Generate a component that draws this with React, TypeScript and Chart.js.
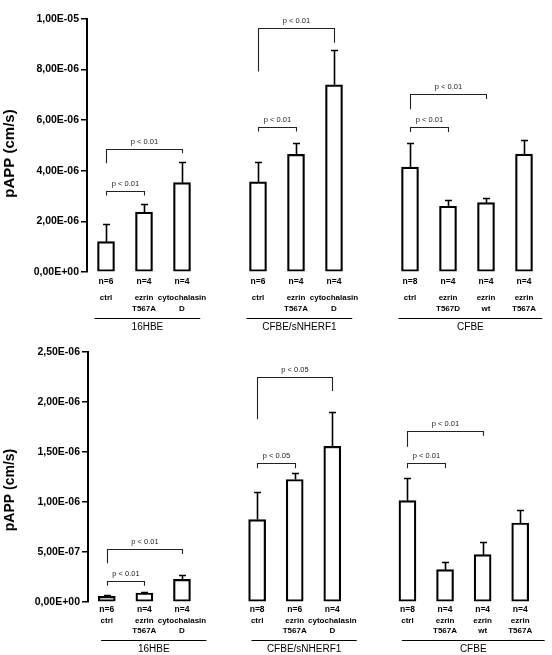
import React, { useEffect, useRef } from "react";
import { Chart, registerables } from "chart.js";
Chart.register(...registerables);

// ---------- data ----------
const positions = [0, 1, 2, 4, 5, 6, 8, 9, 10, 11];
const groupNames = ["16HBE", "CFBE/sNHERF1", "CFBE"];
const groupOf = [0, 0, 0, 1, 1, 1, 2, 2, 2, 2];

const categoriesTop = [["ctrl"], ["ezrin", "T567A"], ["cytochalasin", "D"], ["ctrl"], ["ezrin", "T567A"], ["cytochalasin", "D"], ["ctrl"], ["ezrin", "T567D"], ["ezrin", "wt"], ["ezrin", "T567A"]];
const nTop = ["n=6", "n=4", "n=4", "n=6", "n=4", "n=4", "n=8", "n=4", "n=4", "n=4"];
const meanTop = [1.2e-6, 2.37e-6, 3.53e-6, 3.56e-6, 4.65e-6, 7.4e-6, 4.15e-6, 2.6e-6, 2.74e-6, 4.66e-6];
const errTop = [0.71e-6, 0.33e-6, 0.81e-6, 0.8e-6, 0.46e-6, 1.38e-6, 0.96e-6, 0.25e-6, 0.18e-6, 0.57e-6];
const yTickValuesTop = [0, 2e-6, 4e-6, 6e-6, 8e-6, 1e-5];
const yTickLabelsTop = ["0,00E+00", "2,00E-06", "4,00E-06", "6,00E-06", "8,00E-06", "1,00E-05"];
const bracketPairsTop = [[0, 1], [0, 2], [3, 4], [3, 5], [6, 7], [6, 8]];
const bracketLevelTop = [3.2e-6, 4.85e-6, 5.74e-6, 9.63e-6, 5.74e-6, 7.04e-6];
const bracketLeftEndTop = [3.02e-6, 4.3e-6, 5.55e-6, 7.92e-6, 5.53e-6, 6.43e-6];
const bracketRightEndTop = [3.02e-6, 4.69e-6, 5.55e-6, 9.06e-6, 5.53e-6, 6.84e-6];
const bracketLabelTop = ["p < 0.01", "p < 0.01", "p < 0.01", "p < 0.01", "p < 0.01", "p < 0.01"];

const categoriesBot = [["ctrl"], ["ezrin", "T567A"], ["cytochalasin", "D"], ["ctrl"], ["ezrin", "T567A"], ["cytochalasin", "D"], ["ctrl"], ["ezrin", "T567A"], ["ezrin", "wt"], ["ezrin", "T567A"]];
const nBot = ["n=6", "n=4", "n=4", "n=8", "n=6", "n=4", "n=8", "n=4", "n=4", "n=4"];
const meanBot = [0.057e-6, 0.09e-6, 0.226e-6, 0.824e-6, 1.225e-6, 1.557e-6, 1.013e-6, 0.323e-6, 0.473e-6, 0.79e-6];
const errBot = [0.012e-6, 0.012e-6, 0.04e-6, 0.276e-6, 0.063e-6, 0.348e-6, 0.227e-6, 0.074e-6, 0.13e-6, 0.13e-6];
const yTickValuesBot = [0, 5e-7, 1e-6, 1.5e-6, 2e-6, 2.5e-6];
const yTickLabelsBot = ["0,00E+00", "5,00E-07", "1,00E-06", "1,50E-06", "2,00E-06", "2,50E-06"];
const bracketPairsBot = [[0, 1], [0, 2], [3, 4], [3, 5], [6, 7], [6, 8]];
const bracketLevelBot = [0.213e-6, 0.53e-6, 1.387e-6, 2.247e-6, 1.387e-6, 1.713e-6];
const bracketLeftEndBot = [0.163e-6, 0.387e-6, 1.337e-6, 1.827e-6, 1.337e-6, 1.553e-6];
const bracketRightEndBot = [0.163e-6, 0.48e-6, 1.337e-6, 2.11e-6, 1.337e-6, 1.663e-6];
const bracketLabelBot = ["p < 0.01", "p < 0.01", "p < 0.05", "p < 0.05", "p < 0.01", "p < 0.01"];

const yTitle = "pAPP (cm/s)";

// ---------- panels ----------
type PanelCfg = {
  height: number; padTop: number; padBottom: number; padRight: number; axisWidth: number;
  means: number[]; errs: number[]; cats: string[][]; ns: string[];
  tickValues: number[]; tickLabels: string[]; max: number;
  bPairs: number[][]; bLevel: number[]; bLeft: number[]; bRight: number[]; bLabel: string[];
  nOff: number; c1Off: number; c2Off: number; ulOff: number; gOff: number;
  ulL: number; ulR: number; titleY: number; titleSize: number;
};

const FONT = "'Liberation Sans', Arial, sans-serif";

const topCfg: PanelCfg = {
  height: 334, padTop: 19, padBottom: 62, padRight: 9, axisWidth: 87,
  means: meanTop, errs: errTop, cats: categoriesTop, ns: nTop,
  tickValues: yTickValuesTop, tickLabels: yTickLabelsTop, max: 1e-5,
  bPairs: bracketPairsTop, bLevel: bracketLevelTop, bLeft: bracketLeftEndTop, bRight: bracketRightEndTop, bLabel: bracketLabelTop,
  nOff: 9.5, c1Off: 25.5, c2Off: 37, ulOff: 45.5, gOff: 55.5,
  ulL: 0.3, ulR: 0.48, titleY: 153.5, titleSize: 15,
};

const botCfg: PanelCfg = {
  height: 321, padTop: 18, padBottom: 53, padRight: 13, axisWidth: 88,
  means: meanBot, errs: errBot, cats: categoriesBot, ns: nBot,
  tickValues: yTickValuesBot, tickLabels: yTickLabelsBot, max: 2.5e-6,
  bPairs: bracketPairsBot, bLevel: bracketLevelBot, bLeft: bracketLeftEndBot, bRight: bracketRightEndBot, bLabel: bracketLabelBot,
  nOff: 8, c1Off: 18.5, c2Off: 29, ulOff: 37.5, gOff: 47,
  ulL: 0.15, ulR: 0.65, titleY: 156, titleSize: 14,
};

function makePlugin(p: PanelCfg) {
  return {
    id: "annot",
    afterDatasetsDraw(chart: any) {
      const ctx = chart.ctx as CanvasRenderingContext2D;
      const xs = chart.scales.x;
      const ys = chart.scales.y;
      const bottom = chart.chartArea.bottom;
      ctx.save();
      // error bars
      ctx.strokeStyle = "#000";
      ctx.lineWidth = 1.6;
      p.means.forEach((m, i) => {
        const px = Math.round(xs.getPixelForValue(positions[i])) + 0.5;
        const y0 = ys.getPixelForValue(m);
        const y1 = Math.round(ys.getPixelForValue(m + p.errs[i])) + 0.5;
        ctx.beginPath();
        ctx.moveTo(px, y0);
        ctx.lineTo(px, y1);
        ctx.moveTo(px - 3.5, y1);
        ctx.lineTo(px + 3.5, y1);
        ctx.stroke();
      });
      // brackets
      ctx.strokeStyle = "#222";
      ctx.lineWidth = 1.1;
      ctx.fillStyle = "#222";
      ctx.font = `7.5px ${FONT}`;
      ctx.textAlign = "center";
      ctx.textBaseline = "middle";
      p.bPairs.forEach((pair, k) => {
        const xl = Math.round(xs.getPixelForValue(positions[pair[0]])) + 0.5;
        const xr = Math.round(xs.getPixelForValue(positions[pair[1]])) + 0.5;
        const yl = Math.round(ys.getPixelForValue(p.bLevel[k])) + 0.5;
        ctx.beginPath();
        ctx.moveTo(xl, ys.getPixelForValue(p.bLeft[k]));
        ctx.lineTo(xl, yl);
        ctx.lineTo(xr, yl);
        ctx.lineTo(xr, ys.getPixelForValue(p.bRight[k]));
        ctx.stroke();
        ctx.fillText(p.bLabel[k], (xl + xr) / 2, yl - 8);
      });
      // n labels & categories
      ctx.fillStyle = "#000";
      p.ns.forEach((n, i) => {
        const px = xs.getPixelForValue(positions[i]);
        ctx.font = `bold 8.5px ${FONT}`;
        ctx.fillText(n, px, bottom + p.nOff);
        ctx.font = `bold 8px ${FONT}`;
        const c = p.cats[i];
        ctx.fillText(c[0], px, bottom + p.c1Off);
        if (c[1]) ctx.fillText(c[1], px, bottom + p.c2Off);
      });
      // group underlines and labels
      ctx.strokeStyle = "#000";
      ctx.lineWidth = 1.2;
      groupNames.forEach((g, gi) => {
        const idx = positions.filter((_, i) => groupOf[i] === gi);
        const x0 = xs.getPixelForValue(idx[0] - p.ulL);
        const x1 = xs.getPixelForValue(idx[idx.length - 1] + p.ulR);
        const yy = Math.round(bottom + p.ulOff) + 0.5;
        ctx.beginPath();
        ctx.moveTo(x0, yy);
        ctx.lineTo(x1, yy);
        ctx.stroke();
        ctx.font = `10px ${FONT}`;
        ctx.fillText(g, (x0 + x1) / 2, bottom + p.gOff);
      });
      // y title
      ctx.translate(10, p.titleY);
      ctx.rotate(-Math.PI / 2);
      ctx.font = `bold ${p.titleSize}px ${FONT}`;
      ctx.fillText(yTitle, 0, 0);
      ctx.restore();
    },
  };
}

function Panel({ p }: { p: PanelCfg }) {
  const ref = useRef<HTMLCanvasElement>(null);
  useEffect(() => {
    const chart = new Chart(ref.current as HTMLCanvasElement, {
      type: "bar",
      data: {
        datasets: [
          {
            data: positions.map((x, i) => ({ x, y: p.means[i] })) as any,
            backgroundColor: "#fff",
            borderColor: "#000",
            borderWidth: 2.2,
            borderSkipped: false,
            barThickness: 17,
          },
        ],
      },
      options: {
        responsive: false,
        animation: false,
        devicePixelRatio: 1,
        layout: { padding: { top: p.padTop, bottom: p.padBottom, left: 0, right: p.padRight } },
        plugins: { legend: { display: false }, tooltip: { enabled: false }, title: { display: false } },
        scales: {
          x: { type: "linear", min: -0.5, max: 11.5, offset: false, display: false },
          y: {
            min: 0,
            max: p.max,
            afterBuildTicks: (s: any) => {
              s.ticks = p.tickValues.map((v) => ({ value: v }));
            },
            afterFit: (s: any) => {
              s.width = p.axisWidth;
            },
            ticks: {
              callback: (_v: any, i: number) => p.tickLabels[i],
              color: "#000",
              font: { family: FONT, size: 10.5, weight: "bold" },
              padding: 2,
            },
            grid: { display: true, drawOnChartArea: false, drawTicks: true, tickLength: 6, color: "#000", lineWidth: 1.5 },
            border: { display: true, color: "#000", width: 2 },
          },
        },
      } as any,
      plugins: [makePlugin(p)],
    });
    return () => chart.destroy();
  }, []);
  return <canvas ref={ref} width={552} height={p.height} style={{ display: "block", width: 552, height: p.height }} />;
}

export default function App() {
  return (
    <div style={{ position: "absolute", left: 0, top: 0, width: 552, height: 655, background: "#fff" }}>
      <Panel p={topCfg} />
      <Panel p={botCfg} />
    </div>
  );
}
